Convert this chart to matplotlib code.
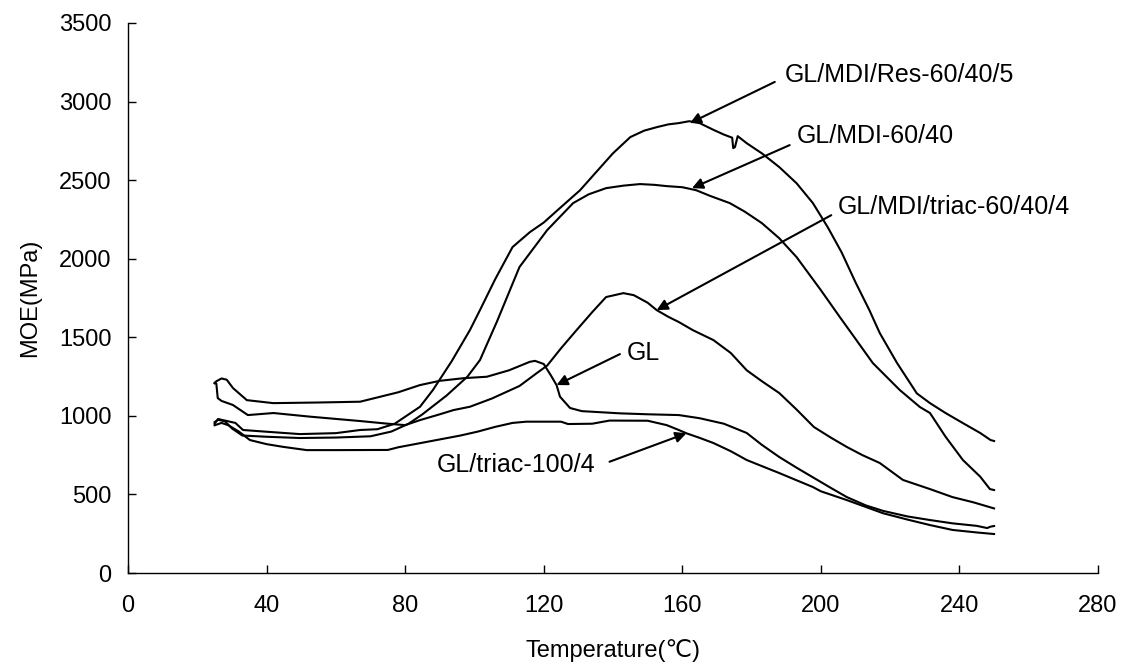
import matplotlib
matplotlib.use("Agg")
import matplotlib.pyplot as plt

plt.rcParams['font.family'] = ['Liberation Sans', 'DejaVu Sans', 'Noto Sans CJK SC']

# ---- data ----
gl_T = [25, 25.5, 27, 28.5, 30.3, 34.3, 41.9, 55, 67, 78, 84.3, 90, 97, 103.6, 110, 116, 117.5, 120, 122,
        123.7, 124.7, 127.6, 131, 142, 150, 159, 165, 172, 178.6, 183, 188, 193, 198, 203, 207.5, 213, 218,
        225, 231.5, 238, 245, 248, 249, 250]
gl_M = [1207, 1220, 1238, 1230, 1177, 1100, 1081, 1085, 1090, 1150, 1196, 1223, 1240, 1249, 1290, 1344, 1350,
        1330, 1260, 1196, 1122, 1050, 1030, 1016, 1010, 1005, 985, 950, 891, 815, 738, 670, 605, 540, 483, 430,
        395, 360, 337, 316, 300, 286, 295, 299]

mditriac_T = [25, 25.5, 25.9, 27, 30.3, 34.6, 42, 52.5, 67, 75, 80, 84.3, 90, 94, 98.7, 105, 113, 118, 121, 125,
              129.5, 134, 138, 143, 146, 150, 152.6, 156, 159, 163, 169, 174, 178.6, 183, 188, 193, 198, 203,
              207.5, 212, 217, 223.7, 231.5, 238, 244, 250]
mditriac_M = [1210, 1205, 1113, 1095, 1069, 1005, 1018, 995, 967, 950, 941, 973, 1010, 1037, 1058, 1110, 1190,
              1272, 1320, 1430, 1546, 1660, 1756, 1781, 1768, 1720, 1673, 1630, 1597, 1546, 1482, 1400, 1290,
              1220, 1145, 1040, 929, 860, 802, 750, 700, 592, 534, 483, 450, 411]

mdi_T = [25, 26, 28, 30, 33, 40, 49.6, 60, 70, 76, 81, 85, 92, 98, 101.6, 106.5, 113, 121, 128.5, 133, 138, 143,
         147.8, 152, 155.5, 160, 164, 168, 173.7, 178, 183, 188, 193, 200, 205.5, 210, 215, 222.8, 228.6, 231.5,
         236, 241, 246, 248.8, 250]
mdi_M = [960, 975, 965, 920, 875, 867, 859, 862, 870, 900, 950, 1010, 1130, 1250, 1355, 1600, 1947, 2182, 2354,
         2410, 2449, 2465, 2475, 2470, 2462, 2455, 2436, 2400, 2354, 2300, 2226, 2130, 2010, 1800, 1628, 1490,
         1336, 1164, 1056, 1018, 867, 719, 613, 534, 528]

res_T = [25, 26, 28, 31, 33.2, 40, 49.6, 60, 67, 72, 77, 84.3, 88, 93.5, 98.7, 101.6, 106, 111, 116, 120, 124,
         130.5, 135.5, 140, 145, 149, 152.6, 156, 159, 162, 165, 169, 172, 174.4, 174.7, 175.2, 176, 178.6, 183,
         188, 193, 197.7, 202, 206, 210, 214, 217, 222, 227.7, 231.5, 236, 241, 246, 249, 250]
res_M = [950, 980, 970, 955, 910, 899, 884, 890, 910, 915, 950, 1058, 1164, 1350, 1546, 1673, 1870, 2074, 2169,
         2230, 2309, 2436, 2560, 2671, 2774, 2815, 2837, 2855, 2863, 2875, 2863, 2820, 2790, 2770, 2704, 2710,
         2780, 2735, 2670, 2583, 2480, 2354, 2200, 2040, 1850, 1673, 1527, 1336, 1143, 1081, 1018, 954, 891,
         846, 840]

triac_T = [25, 27, 29, 32, 35.2, 40, 44.7, 51.6, 60, 75, 78, 84, 90, 96, 101, 106, 111, 115, 125, 127, 134, 139,
           150, 155.5, 159, 161.2, 165, 169, 174, 178.6, 183, 188, 193, 197.7, 200, 207.5, 213, 218, 225, 231.5,
           238, 245, 250]
triac_M = [940, 955, 940, 900, 846, 820, 803, 782, 782, 783, 800, 825, 850, 875, 900, 930, 955, 963, 963, 948,
           950, 970, 969, 941, 910, 889, 860, 827, 775, 719, 680, 636, 590, 547, 520, 464, 420, 380, 340, 305,
           274, 258, 248]

x_ticks = [0, 40, 80, 120, 160, 200, 240, 280]
y_ticks = [0, 500, 1000, 1500, 2000, 2500, 3000, 3500]

labels = ["GL/MDI/Res-60/40/5", "GL/MDI-60/40", "GL/MDI/triac-60/40/4", "GL", "GL/triac-100/4"]

# ---- figure ----
fig = plt.figure(figsize=(11.24, 6.69), dpi=100)
ax = fig.add_axes([128 / 1124, 96 / 669, 970 / 1124, 550 / 669])

for T, M in [(gl_T, gl_M), (mditriac_T, mditriac_M), (mdi_T, mdi_M), (res_T, res_M), (triac_T, triac_M)]:
    ax.plot(T, M, color='black', lw=1.5)

ax.set_xlim(0, 280)
ax.set_ylim(0, 3500)
ax.set_xticks(x_ticks)
ax.set_yticks(y_ticks)
ax.tick_params(axis='both', direction='in', length=5.5, width=1.0, labelsize=17)
ax.tick_params(axis='x', pad=16)
ax.tick_params(axis='y', pad=12)
for s in ['top', 'right']:
    ax.spines[s].set_visible(False)
for s in ['left', 'bottom']:
    ax.spines[s].set_linewidth(1.0)

ax.set_xlabel("Temperature(℃)", fontsize=17, labelpad=16)
ax.set_ylabel("MOE(MPa)", fontsize=17, labelpad=13)

arrow = dict(arrowstyle='-|>', color='black', lw=1.5, mutation_scale=16, shrinkA=0, shrinkB=0)
# (label, head xy, text xy, ha, tail xy)
annots = [
    (labels[0], (162.2, 2863), (189.6, 3168), 'left', (186.7, 3125)),
    (labels[1], (162.8, 2449), (193.0, 2780), 'left', (191.0, 2723)),
    (labels[2], (152.6, 1673), (204.9, 2330), 'left', (203.0, 2277)),
    (labels[3], (123.7, 1196), (143.9, 1398), 'left', (142.0, 1393)),
    (labels[4], (161.2, 889), (89.1, 687), 'left', (139.0, 708)),
]
for lab, head, txt, ha, tail in annots:
    ax.annotate("", xy=head, xytext=tail, arrowprops=arrow)
    ax.text(txt[0], txt[1], lab, fontsize=18, ha=ha, va='center')

fig.savefig("out.png", dpi=100)
